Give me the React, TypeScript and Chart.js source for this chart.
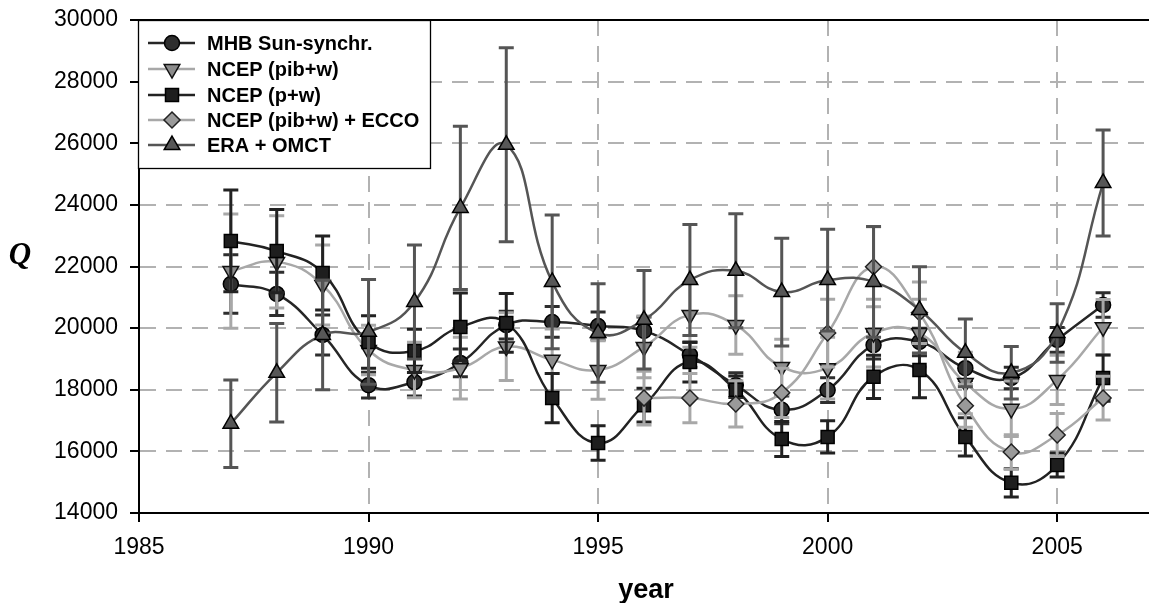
import React, { useEffect, useRef } from "react";
import { Chart, registerables } from "chart.js";

Chart.register(...registerables);

// Annual values 1987–2006
const years = [1987, 1988, 1989, 1990, 1991, 1992, 1993, 1994, 1995, 1996, 1997, 1998, 1999, 2000, 2001, 2002, 2003, 2004, 2005, 2006];

const mhb = [21430, 21110, 19780, 18150, 18250, 18870, 20100, 20200, 20070, 19910, 19130, 18150, 17350, 17990, 19450, 19550, 18700, 18380, 19620, 20750];
const mhbErr = [950, 700, 650, 420, 450, 450, 450, 500, 450, 450, 400, 400, 450, 400, 450, 450, 400, 350, 400, 400];

const ncepPib = [21850, 22150, 21400, 19290, 18640, 18700, 19400, 18970, 18640, 19390, 20430, 20100, 18740, 18700, 19840, 19840, 18220, 17380, 18320, 20030];
const ncepPibErr = [1850, 1500, 1300, 800, 900, 1000, 1100, 1000, 950, 1000, 1050, 950, 900, 1000, 1100, 1100, 1000, 900, 800, 900];

const ncepPw = [22830, 22500, 21790, 19550, 19260, 20040, 20170, 17730, 16270, 17500, 18900, 18000, 16400, 16470, 18420, 18640, 16470, 14980, 15560, 18380];
const ncepPwErr = [1650, 1350, 1200, 850, 700, 1100, 950, 800, 560, 550, 650, 450, 570, 520, 700, 900, 620, 460, 390, 750];

const eccoYears = [1996, 1997, 1998, 1999, 2000, 2001, 2002, 2003, 2004, 2005, 2006];
const ecco = [17730, 17730, 17540, 17900, 19840, 21990, 20500, 17480, 15980, 16530, 17730];
const eccoErr = [870, 800, 750, 800, 1100, 1300, 1000, 700, 560, 700, 710];

const era = [16900, 18550, 19780, 19880, 20850, 23900, 25950, 21500, 19840, 20270, 21560, 21860, 21170, 21560, 21500, 20590, 19200, 18550, 19840, 24710];
const eraErr = [1420, 1600, 1780, 1700, 1850, 2650, 3150, 2170, 1600, 1600, 1800, 1850, 1750, 1650, 1800, 1400, 1100, 850, 950, 1720];

const xTicks = [1985, 1990, 1995, 2000, 2005];
const yTicks = [14000, 16000, 18000, 20000, 22000, 24000, 26000, 28000, 30000];

const SANS = '"Liberation Sans", Arial, sans-serif';
const SERIF = '"Liberation Serif", "Times New Roman", serif';

type SeriesStyle = {
  label: string;
  line: string;
  fill: string;
  stroke: string;
  err: string;
  shape: "circle" | "triDown" | "square" | "diamond" | "triUp";
};

const styles: SeriesStyle[] = [
  { label: "MHB Sun-synchr.", line: "#262626", fill: "#2e2e2e", stroke: "#000", err: "#2e2e2e", shape: "circle" },
  { label: "NCEP (pib+w)", line: "#a8a8a8", fill: "#8c8c8c", stroke: "#111", err: "#a8a8a8", shape: "triDown" },
  { label: "NCEP (p+w)", line: "#222", fill: "#1e1e1e", stroke: "#000", err: "#222", shape: "square" },
  { label: "NCEP (pib+w) + ECCO", line: "#a8a8a8", fill: "#9a9a9a", stroke: "#222", err: "#a8a8a8", shape: "diamond" },
  { label: "ERA + OMCT", line: "#555", fill: "#575757", stroke: "#000", err: "#555", shape: "triUp" },
];

function drawMarker(ctx: CanvasRenderingContext2D, shape: SeriesStyle["shape"], x: number, y: number) {
  ctx.beginPath();
  if (shape === "circle") {
    ctx.arc(x, y, 7.5, 0, Math.PI * 2);
  } else if (shape === "square") {
    ctx.rect(x - 6.5, y - 6.5, 13, 13);
  } else if (shape === "diamond") {
    ctx.moveTo(x, y - 8);
    ctx.lineTo(x + 8, y);
    ctx.lineTo(x, y + 8);
    ctx.lineTo(x - 8, y);
    ctx.closePath();
  } else {
    const r = 9;
    const s = shape === "triUp" ? 1 : -1;
    ctx.moveTo(x, y - s * r);
    ctx.lineTo(x + r * Math.sin((2 * Math.PI) / 3), y + s * r * 0.5);
    ctx.lineTo(x - r * Math.sin((2 * Math.PI) / 3), y + s * r * 0.5);
    ctx.closePath();
  }
  ctx.fill();
  ctx.stroke();
}

// Vertical error bars with caps, drawn just beneath each series' line
const errorBars = {
  id: "errorBars",
  beforeDatasetDraw(chart: any, args: any) {
    const ds = chart.data.datasets[args.index];
    if (!ds.errors) return;
    const ctx: CanvasRenderingContext2D = chart.ctx;
    const yScale = chart.scales.y;
    const xScale = chart.scales.x;
    ctx.save();
    ctx.strokeStyle = ds.errorColor;
    ctx.lineWidth = 3;
    ds.data.forEach((p: { x: number; y: number }, i: number) => {
      const e = ds.errors[i];
      const px = xScale.getPixelForValue(p.x);
      const top = yScale.getPixelForValue(p.y + e);
      const bot = yScale.getPixelForValue(p.y - e);
      ctx.beginPath();
      ctx.moveTo(px, top);
      ctx.lineTo(px, bot);
      ctx.moveTo(px - 7.5, top);
      ctx.lineTo(px + 7.5, top);
      ctx.moveTo(px - 7.5, bot);
      ctx.lineTo(px + 7.5, bot);
      ctx.stroke();
    });
    ctx.restore();
  },
};

// Frame top line, axis titles and the boxed legend
const decorations = {
  id: "decorations",
  afterDraw(chart: any) {
    const ctx: CanvasRenderingContext2D = chart.ctx;
    const { left, top } = chart.chartArea;
    ctx.save();
    ctx.strokeStyle = "#000";
    ctx.lineWidth = 2;
    ctx.beginPath();
    ctx.moveTo(left - 9, top);
    ctx.lineTo(chart.width, top);
    ctx.stroke();

    // axis titles
    ctx.fillStyle = "#000";
    ctx.textAlign = "center";
    ctx.textBaseline = "alphabetic";
    ctx.font = `italic bold 31px ${SERIF}`;
    ctx.fillText("Q", 20, 264);
    ctx.font = `bold 27px ${SANS}`;
    ctx.fillText("year", 646, 598);

    // legend
    const bx = 138.5, by = 20.5, bw = 292, bh = 148;
    ctx.fillStyle = "#fff";
    ctx.fillRect(bx, by, bw, bh);
    ctx.strokeStyle = "#000";
    ctx.lineWidth = 1.3;
    ctx.strokeRect(bx, by, bw, bh);
    const rows = [43, 69, 95, 120, 145];
    styles.forEach((s, i) => {
      const y = rows[i];
      ctx.strokeStyle = s.line;
      ctx.lineWidth = 2.5;
      ctx.beginPath();
      ctx.moveTo(148, y);
      ctx.lineTo(195, y);
      ctx.stroke();
      ctx.fillStyle = s.fill;
      ctx.strokeStyle = s.stroke;
      ctx.lineWidth = 1.5;
      drawMarker(ctx, s.shape, 172, y);
      ctx.fillStyle = "#000";
      ctx.font = `bold 20px ${SANS}`;
      ctx.textAlign = "left";
      ctx.textBaseline = "middle";
      ctx.fillText(s.label, 207, y + 1);
    });
    ctx.restore();
  },
};

const pointStyleOf: Record<SeriesStyle["shape"], { pointStyle: string; pointRadius: number; pointRotation: number }> = {
  circle: { pointStyle: "circle", pointRadius: 7.5, pointRotation: 0 },
  triDown: { pointStyle: "triangle", pointRadius: 9, pointRotation: 180 },
  square: { pointStyle: "rect", pointRadius: 9.2, pointRotation: 0 },
  diamond: { pointStyle: "rectRot", pointRadius: 8, pointRotation: 0 },
  triUp: { pointStyle: "triangle", pointRadius: 9, pointRotation: 0 },
};

function makeDataset(idx: number, xs: number[], ys: number[], errs: number[], order: number) {
  const s = styles[idx];
  const ps = pointStyleOf[s.shape];
  return {
    label: s.label,
    data: xs.map((x, i) => ({ x, y: ys[i] })),
    errors: errs,
    errorColor: s.err,
    borderColor: s.line,
    borderWidth: 2.5,
    pointBackgroundColor: s.fill,
    pointBorderColor: s.stroke,
    pointBorderWidth: 1.5,
    pointStyle: ps.pointStyle,
    pointRadius: ps.pointRadius,
    pointRotation: ps.pointRotation,
    tension: 0.45,
    fill: false,
    order,
  };
}

export default function App() {
  const canvasRef = useRef<HTMLCanvasElement | null>(null);

  useEffect(() => {
    if (!canvasRef.current) return;
    const chart = new Chart(canvasRef.current, {
      type: "line",
      data: {
        datasets: [
          makeDataset(0, years, mhb, mhbErr, 5),
          makeDataset(1, years, ncepPib, ncepPibErr, 4),
          makeDataset(2, years, ncepPw, ncepPwErr, 3),
          makeDataset(3, eccoYears, ecco, eccoErr, 2),
          makeDataset(4, years, era, eraErr, 1),
        ] as any,
      },
      options: {
        animation: false,
        responsive: false,
        maintainAspectRatio: false,
        layout: { autoPadding: false, padding: { top: 20, left: 0, right: 0, bottom: 0 } },
        plugins: { legend: { display: false }, tooltip: { enabled: false } },
        scales: {
          x: {
            type: "linear",
            min: 1985,
            max: 2007,
            afterBuildTicks: (scale: any) => {
              scale.ticks = xTicks.map((v) => ({ value: v }));
            },
            afterFit: (scale: any) => {
              scale.height = 90;
              scale.paddingLeft = 0;
              scale.paddingRight = 0;
            },
            ticks: {
              font: { family: SANS, size: 23 },
              color: "#000",
              padding: 12,
              maxRotation: 0,
              autoSkip: false,
              callback: (v: any) => String(v),
            },
            grid: {
              color: (c: any) => (c.tick && c.tick.value === 1985 ? "rgba(0,0,0,0)" : "#b2b2b2"),
              lineWidth: 2,
              tickColor: "#000",
              tickLength: 9,
              tickWidth: 2,
            },
            border: { color: "#000", width: 2, dash: [16, 10] },
          },
          y: {
            type: "linear",
            min: 14000,
            max: 30000,
            afterBuildTicks: (scale: any) => {
              scale.ticks = yTicks.map((v) => ({ value: v }));
            },
            afterFit: (scale: any) => {
              scale.width = 139;
              scale.paddingTop = 0;
              scale.paddingBottom = 0;
            },
            ticks: {
              font: { family: SANS, size: 23 },
              color: "#000",
              padding: 12,
              callback: (v: any) => String(v),
            },
            grid: {
              color: (c: any) =>
                c.tick && (c.tick.value === 14000 || c.tick.value === 30000) ? "rgba(0,0,0,0)" : "#b2b2b2",
              lineWidth: 2,
              tickColor: "#000",
              tickLength: 9,
              tickWidth: 2,
            },
            border: { color: "#000", width: 2, dash: [16, 10] },
          },
        },
      },
      plugins: [errorBars, decorations],
    });
    return () => chart.destroy();
  }, []);

  return (
    <div style={{ position: "fixed", left: 0, top: 0, width: 1149, height: 603, background: "#fff" }}>
      <canvas ref={canvasRef} width={1149} height={603} />
    </div>
  );
}
